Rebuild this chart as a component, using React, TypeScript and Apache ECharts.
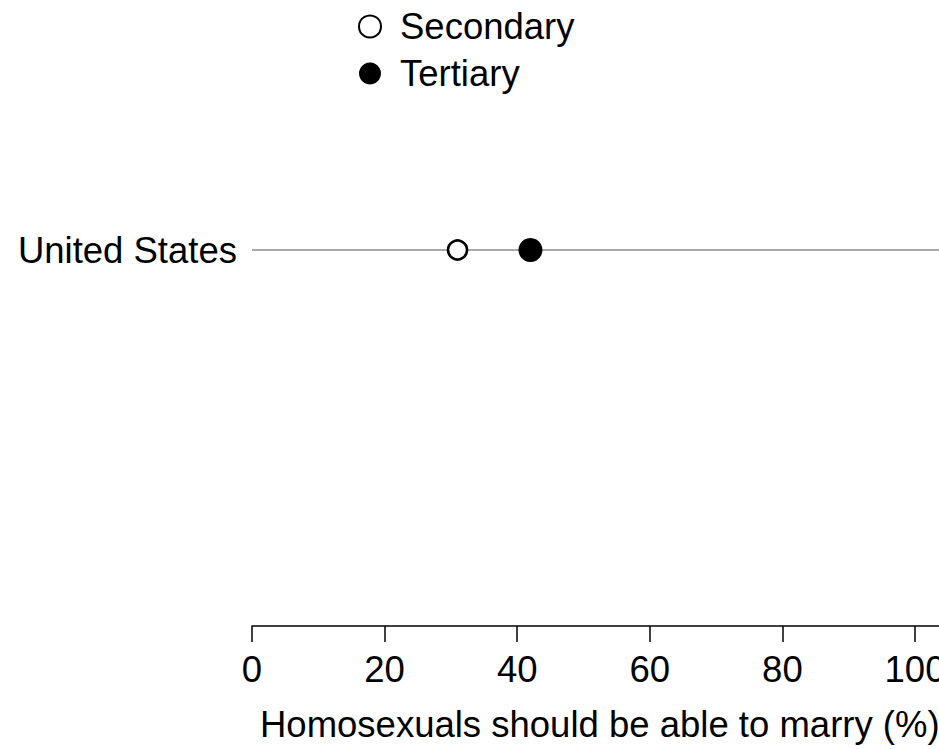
import React, { useEffect, useRef } from "react";
import * as echarts from "echarts";

const categories = ["United States"];
const seriesNames = ["Secondary", "Tertiary"];
const secondaryValues = [31];
const tertiaryValues = [42];
const xMin = 0;
const xMax = 120;
const xInterval = 20;
const xTitle = "Homosexuals should be able to marry (%)";

const FONT = "'Liberation Sans', Arial, Helvetica, sans-serif";
const FS = 36.5;

export default function App() {
  const ref = useRef<HTMLDivElement>(null);
  useEffect(() => {
    if (!ref.current) return;
    const chart = echarts.init(ref.current, null, { renderer: "svg" });
    const guide = categories.flatMap((c) => [
      [xMin, c],
      [xMax, c],
    ]);
    chart.setOption({
      animation: false,
      backgroundColor: "#fff",
      textStyle: { fontFamily: FONT },
      legend: {
        orient: "vertical",
        left: 353,
        top: 3,
        itemWidth: 22,
        itemHeight: 22,
        itemGap: 10,
        icon: "circle",
        data: seriesNames,
        textStyle: {
          fontFamily: FONT,
          fontSize: FS,
          color: "#000",
          lineHeight: 36,
          padding: [0, 0, 0, 14],
        },
      },
      grid: {
        left: 252,
        top: 200,
        width: 795.6,
        height: 100,
        containLabel: false,
        outerBoundsMode: "none",
      },
      xAxis: {
        type: "value",
        min: xMin,
        max: xMax,
        interval: xInterval,
        position: "bottom",
        offset: 326,
        axisLine: { show: true, lineStyle: { color: "#000", width: 1.5 } },
        axisTick: { show: true, length: 16, inside: false, lineStyle: { color: "#000", width: 1.5 } },
        splitLine: { show: false },
        axisLabel: {
          color: "#000",
          fontSize: FS,
          fontFamily: FONT,
          margin: 25,
          showMaxLabel: false,
        },
      },
      yAxis: {
        type: "category",
        data: categories,
        axisLine: { show: false },
        axisTick: { show: false },
        splitLine: { show: false },
        axisLabel: { color: "#000", fontSize: FS, fontFamily: FONT, margin: 15 },
      },
      graphic: [
        {
          type: "text",
          style: {
            x: 260,
            y: 724,
            text: xTitle,
            fill: "#000",
            font: `${FS}px ${FONT}`,
            verticalAlign: "middle",
            align: "left",
          },
        },
      ],
      series: [
        {
          name: "guide",
          type: "line",
          data: guide,
          symbol: "none",
          silent: true,
          lineStyle: { color: "#8c8c8c", width: 1.5 },
          z: 1,
        },
        {
          name: seriesNames[0],
          type: "scatter",
          data: secondaryValues.map((v, i) => [v, categories[i]]),
          symbol: "circle",
          symbolSize: 19,
          itemStyle: { color: "#fff", borderColor: "#000", borderWidth: 2.6, opacity: 1 },
          z: 3,
        },
        {
          name: seriesNames[1],
          type: "scatter",
          data: tertiaryValues.map((v, i) => [v, categories[i]]),
          symbol: "circle",
          symbolSize: 24,
          itemStyle: { color: "#000", borderWidth: 0, opacity: 1 },
          z: 3,
        },
      ],
    });
    return () => chart.dispose();
  }, []);
  return (
    <div
      ref={ref}
      style={{ position: "fixed", left: 0, top: 0, width: 939, height: 749, overflow: "hidden" }}
    />
  );
}
